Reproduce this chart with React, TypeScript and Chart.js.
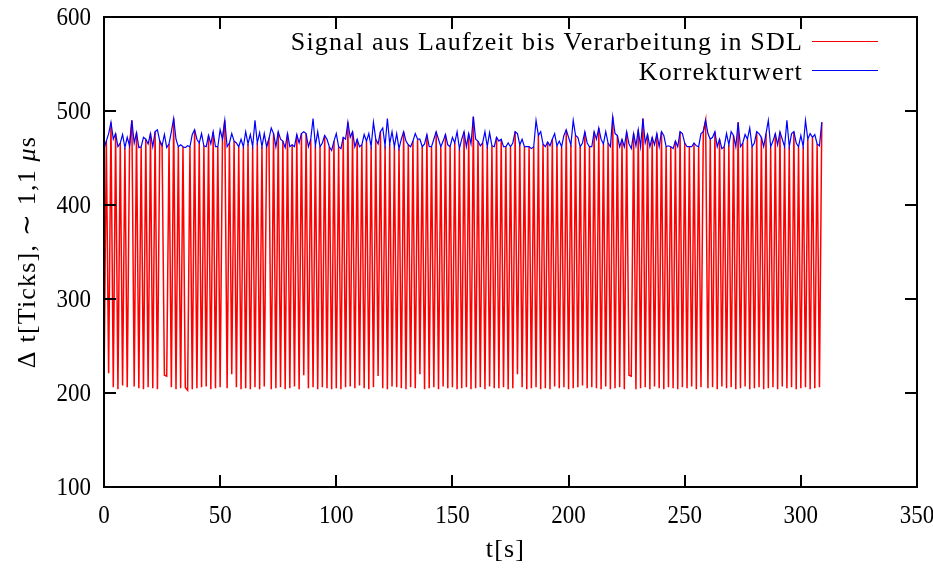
import React, { useEffect, useRef } from 'react';
import { Chart, registerables } from 'chart.js';

Chart.register(...registerables);

const xTicks = [0, 50, 100, 150, 200, 250, 300, 350];
const yTicks = [100, 200, 300, 400, 500, 600];
const legendLabels = ['Signal aus Laufzeit bis Verarbeitung in SDL', 'Korrekturwert'];
const xTitle = 't[s]';
const yTitleMain = 'Δ t[Ticks], ∼ 1,1 ';
const yTitleMu = 'μ';
const yTitleTail = 's';

// Korrekturwert (blue), one value per second from t = 0
const korrektur = [
  460, 468, 476, 488, 470, 476, 462, 466, 475, 461,
  472, 463, 490, 466, 477, 461, 462, 472, 470, 465,
  476, 462, 478, 480, 468, 463, 475, 461, 465, 478,
  492, 470, 462, 464, 462, 461, 463, 462, 475, 480,
  470, 466, 476, 463, 462, 474, 465, 478, 462, 462,
  480, 470, 490, 462, 466, 476, 468, 466, 462, 470,
  462, 478, 465, 475, 462, 490, 466, 477, 462, 476,
  462, 470, 482, 476, 462, 478, 470, 468, 461, 476,
  462, 464, 462, 475, 466, 476, 478, 476, 462, 470,
  492, 463, 478, 462, 466, 474, 470, 462, 458, 468,
  476, 462, 460, 472, 470, 488, 472, 478, 462, 470,
  462, 464, 475, 468, 476, 462, 488, 470, 465, 478,
  482, 463, 492, 465, 478, 462, 476, 460, 470, 478,
  468, 464, 462, 468, 476, 470, 470, 462, 465, 475,
  462, 462, 470, 478, 470, 462, 468, 475, 464, 462,
  472, 466, 478, 460, 470, 478, 462, 476, 465, 494,
  470, 468, 463, 466, 478, 462, 477, 463, 462, 472,
  468, 470, 462, 462, 466, 462, 466, 478, 476, 464,
  470, 462, 462, 462, 460, 462, 490, 474, 478, 465,
  462, 467, 463, 470, 476, 463, 468, 462, 474, 480,
  472, 464, 490, 474, 472, 462, 466, 478, 466, 462,
  462, 478, 470, 482, 470, 465, 478, 466, 462, 494,
  476, 474, 462, 470, 462, 478, 465, 460, 476, 463,
  480, 462, 492, 466, 475, 462, 472, 464, 476, 462,
  478, 474, 462, 463, 462, 460, 468, 462, 478, 476,
  466, 462, 462, 462, 466, 463, 462, 476, 478, 490,
  476, 470, 472, 478, 462, 470, 460, 462, 476, 464,
  478, 474, 462, 488, 462, 466, 475, 470, 482, 462,
  466, 478, 476, 472, 462, 476, 490, 462, 468, 476,
  464, 478, 470, 462, 490, 462, 476, 478, 466, 462,
  474, 462, 490, 470, 476, 472, 475, 465, 463, 488,
];

// Signal aus Laufzeit bis Verarbeitung in SDL (red)
const signal = [
  205, 468, 221, 488, 206, 476, 204, 466, 208, 461,
  206, 463, 490, 207, 477, 205, 462, 204, 470, 206,
  476, 205, 478, 204, 468, 463, 219, 218, 465, 206,
  492, 204, 462, 205, 462, 206, 203, 462, 204, 480,
  205, 466, 206, 463, 207, 474, 204, 478, 205, 462,
  206, 470, 490, 205, 466, 220, 468, 206, 462, 204,
  462, 205, 465, 204, 462, 206, 466, 204, 462, 207,
  462, 470, 204, 476, 205, 478, 206, 468, 204, 476,
  205, 464, 207, 475, 204, 476, 219, 476, 205, 470,
  206, 463, 204, 462, 206, 474, 205, 462, 204, 468,
  205, 462, 204, 472, 206, 488, 207, 478, 205, 470,
  208, 464, 205, 468, 204, 462, 206, 470, 218, 478,
  205, 463, 204, 465, 207, 462, 206, 460, 205, 478,
  204, 464, 206, 468, 205, 470, 220, 462, 204, 475,
  205, 462, 206, 478, 204, 462, 207, 475, 205, 462,
  206, 466, 204, 460, 205, 478, 206, 476, 204, 494,
  205, 468, 206, 466, 204, 462, 207, 463, 205, 472,
  205, 470, 206, 462, 204, 462, 205, 478, 220, 464,
  206, 462, 204, 462, 205, 462, 206, 474, 204, 465,
  205, 467, 204, 470, 207, 463, 205, 462, 206, 480,
  204, 464, 205, 474, 206, 462, 208, 478, 205, 462,
  206, 478, 205, 482, 204, 465, 207, 466, 204, 494,
  205, 474, 206, 470, 204, 478, 219, 218, 476, 204,
  480, 205, 492, 206, 475, 204, 472, 207, 476, 205,
  478, 204, 462, 206, 462, 205, 468, 204, 478, 206,
  466, 205, 462, 207, 466, 204, 462, 206, 478, 490,
  205, 470, 206, 478, 204, 470, 207, 462, 205, 464,
  206, 474, 204, 488, 205, 466, 207, 470, 204, 462,
  205, 478, 206, 472, 204, 476, 205, 462, 206, 476,
  204, 478, 207, 462, 205, 462, 206, 478, 204, 462,
  205, 462, 206, 470, 204, 472, 205, 465, 206, 488,
];

const RED = '#ff0000';
const BLUE = '#0000ff';
const TICK_FONT = '25px "Liberation Serif"';
const TEXT_FONT = '26px "Liberation Serif"';

export default function App() {
  const canvasRef = useRef<HTMLCanvasElement | null>(null);

  useEffect(() => {
    document.body.style.margin = '0';
    const canvas = canvasRef.current;
    if (!canvas) return;

    const framePlugin = {
      id: 'gnuplotFrame',
      afterDraw(chart: any) {
        const ctx: CanvasRenderingContext2D = chart.ctx;
        const { left, right, top, bottom } = chart.chartArea;
        const xs = chart.scales.x;
        const ys = chart.scales.y;
        const tl = 12;
        ctx.save();
        ctx.strokeStyle = '#000';
        ctx.lineWidth = 2;
        ctx.lineCap = 'butt';
        ctx.beginPath();
        ctx.rect(left, top, right - left, bottom - top);
        ctx.stroke();
        ctx.beginPath();
        for (const v of xTicks) {
          const px = Math.round(xs.getPixelForValue(v));
          ctx.moveTo(px, bottom);
          ctx.lineTo(px, bottom - tl);
          ctx.moveTo(px, top);
          ctx.lineTo(px, top + tl);
        }
        for (const v of yTicks) {
          const py = Math.round(ys.getPixelForValue(v));
          ctx.moveTo(left, py);
          ctx.lineTo(left + tl, py);
          ctx.moveTo(right, py);
          ctx.lineTo(right - tl, py);
        }
        ctx.stroke();

        ctx.fillStyle = '#000';
        ctx.font = TICK_FONT;
        ctx.textBaseline = 'alphabetic';
        const sx = 0.92;
        ctx.textAlign = 'right';
        for (const v of yTicks) {
          const py = ys.getPixelForValue(v);
          ctx.save();
          ctx.translate(left - 13, py + 8);
          ctx.scale(sx, 1);
          ctx.fillText(String(v), 0, 0);
          ctx.restore();
        }
        ctx.textAlign = 'center';
        for (const v of xTicks) {
          const px = xs.getPixelForValue(v);
          ctx.save();
          ctx.translate(px, bottom + 36);
          ctx.scale(sx, 1);
          ctx.fillText(String(v), 0, 0);
          ctx.restore();
        }

        (ctx as any).letterSpacing = '1.2px';
        ctx.font = TEXT_FONT;
        ctx.textAlign = 'center';
        ctx.fillText(xTitle, (left + right) / 2 - 5, bottom + 70);

        // y title, rotated
        ctx.save();
        ctx.translate(35, (top + bottom) / 2);
        ctx.rotate(-Math.PI / 2);
        ctx.textAlign = 'left';
        ctx.font = TEXT_FONT;
        const w1 = ctx.measureText(yTitleMain).width;
        ctx.font = 'italic ' + TEXT_FONT;
        const w2 = ctx.measureText(yTitleMu).width;
        ctx.font = TEXT_FONT;
        const w3 = ctx.measureText(yTitleTail).width;
        let x0 = -(w1 + w2 + w3) / 2;
        ctx.fillText(yTitleMain, x0, 0);
        x0 += w1;
        ctx.font = 'italic ' + TEXT_FONT;
        ctx.fillText(yTitleMu, x0, 0);
        x0 += w2;
        ctx.font = TEXT_FONT;
        ctx.fillText(yTitleTail, x0, 0);
        ctx.restore();

        // legend
        const colors = [RED, BLUE];
        const baselines = [50, 80];
        const lineYs = [41, 70];
        ctx.font = TEXT_FONT;
        ctx.textAlign = 'right';
        legendLabels.forEach((lab, i) => {
          ctx.fillStyle = '#000';
          ctx.fillText(lab, 803, baselines[i]);
          ctx.strokeStyle = colors[i];
          ctx.lineWidth = 1;
          ctx.beginPath();
          ctx.moveTo(812, lineYs[i] + 0.5);
          ctx.lineTo(878, lineYs[i] + 0.5);
          ctx.stroke();
        });
        ctx.restore();
      },
    };

    const chart = new Chart(canvas, {
      type: 'line',
      data: {
        datasets: [
          {
            label: legendLabels[0],
            data: signal.map((v, i) => ({ x: i, y: v })),
            borderColor: RED,
            borderWidth: 1.5,
            pointRadius: 0,
            fill: false,
            tension: 0,
            order: 2,
          },
          {
            label: legendLabels[1],
            data: korrektur.map((v, i) => ({ x: i, y: v })),
            borderColor: BLUE,
            borderWidth: 1.2,
            pointRadius: 0,
            fill: false,
            tension: 0,
            order: 1,
          },
        ],
      },
      options: {
        animation: false,
        responsive: false,
        devicePixelRatio: 1,
        layout: { padding: { left: 104, right: 16, top: 17, bottom: 83 } },
        plugins: { legend: { display: false }, tooltip: { enabled: false } },
        scales: {
          x: { type: 'linear', display: false, min: 0, max: 350 },
          y: { type: 'linear', display: false, min: 100, max: 600 },
        },
        elements: { point: { radius: 0 }, line: { tension: 0 } },
      },
      plugins: [framePlugin],
    });
    return () => chart.destroy();
  }, []);

  return (
    <canvas
      ref={canvasRef}
      width={933}
      height={570}
      style={{ display: 'block', width: 933, height: 570 }}
    />
  );
}
